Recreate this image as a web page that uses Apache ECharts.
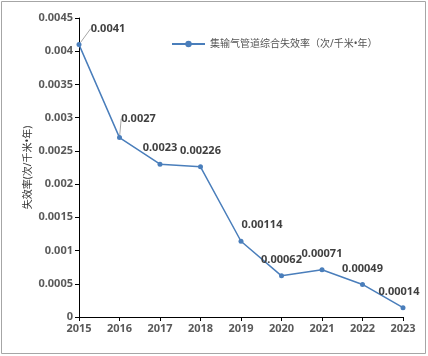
<!DOCTYPE html>
<html><head><meta charset="utf-8">
<script src="https://cdn.jsdelivr.net/npm/echarts@6/dist/echarts.min.js"></script>
<style>html,body{margin:0;padding:0;background:#fff}#c{width:428px;height:356px}</style>
</head><body><div id="c"></div>
<script>
const years = ['2015','2016','2017','2018','2019','2020','2021','2022','2023'];
const rates = [0.0041,0.0027,0.0023,0.00226,0.00114,0.00062,0.00071,0.00049,0.00014];
const seriesName = '集输气管道综合失效率（次/千米•年）';
const yTitle = '失效率(次/千米•年)';
const labelShift = [[29,0],[19,-3],[0,0],[0,0],[21,0],[0,0],[0,0],[0,0],[-4,0]];
const withLeader = [true,true,false,false,false,false,false,false,false];

const chart = echarts.init(document.getElementById('c'));
chart.setOption({
  animation:false,
  graphic:[{type:'rect',shape:{x:1.5,y:1.5,width:424,height:352},style:{fill:'none',stroke:'#a6a6a6',lineWidth:1}}],
  legend:{top:34,left:166,itemWidth:33,itemHeight:8,itemGap:4,
    textStyle:{fontSize:10,color:'#555',fontFamily:'Noto Sans, Noto Sans CJK SC'},
    data:[seriesName]},
  grid:{left:79,right:25,top:18,bottom:39},
  xAxis:{type:'category',data:years,boundaryGap:false,
    axisLine:{lineStyle:{color:'#000',width:1}},
    axisTick:{show:true,alignWithLabel:true,length:4,lineStyle:{color:'#000'}},
    axisLabel:{color:'#595959',fontWeight:'bold',fontSize:11,margin:6,fontFamily:'Noto Sans'}},
  yAxis:{type:'value',min:0,max:0.0045,interval:0.0005,
    name:yTitle,nameLocation:'middle',nameGap:46,nameMoveOverlap:false,
    nameTextStyle:{fontSize:10,color:'#333',fontFamily:'Noto Sans, Noto Sans CJK SC'},
    axisLine:{show:true,lineStyle:{color:'#000',width:1}},
    axisTick:{show:true,length:4,lineStyle:{color:'#000'}},
    splitLine:{show:false},
    axisLabel:{color:'#595959',fontWeight:'bold',fontSize:11,margin:6,fontFamily:'Noto Sans',
      formatter:v=>v===0?'0':String(parseFloat(v.toFixed(6)))}},
  series:[{name:seriesName,type:'line',
    data:rates.map((v,i)=>({value:v,labelLine:{show:withLeader[i]}})),
    symbol:'circle',symbolSize:5,
    itemStyle:{color:'#4a7ebb'},lineStyle:{color:'#4a7ebb',width:1.5},
    label:{show:true,position:'top',distance:8,color:'#404040',fontWeight:'bold',fontSize:11,fontFamily:'Noto Sans'},
    labelLine:{show:false,lineStyle:{color:'#a6a6a6',width:1}},
    labelLayout:function(p){const s=labelShift[p.dataIndex];return {dx:s[0],dy:s[1]};}
  }]
});
</script></body></html>
